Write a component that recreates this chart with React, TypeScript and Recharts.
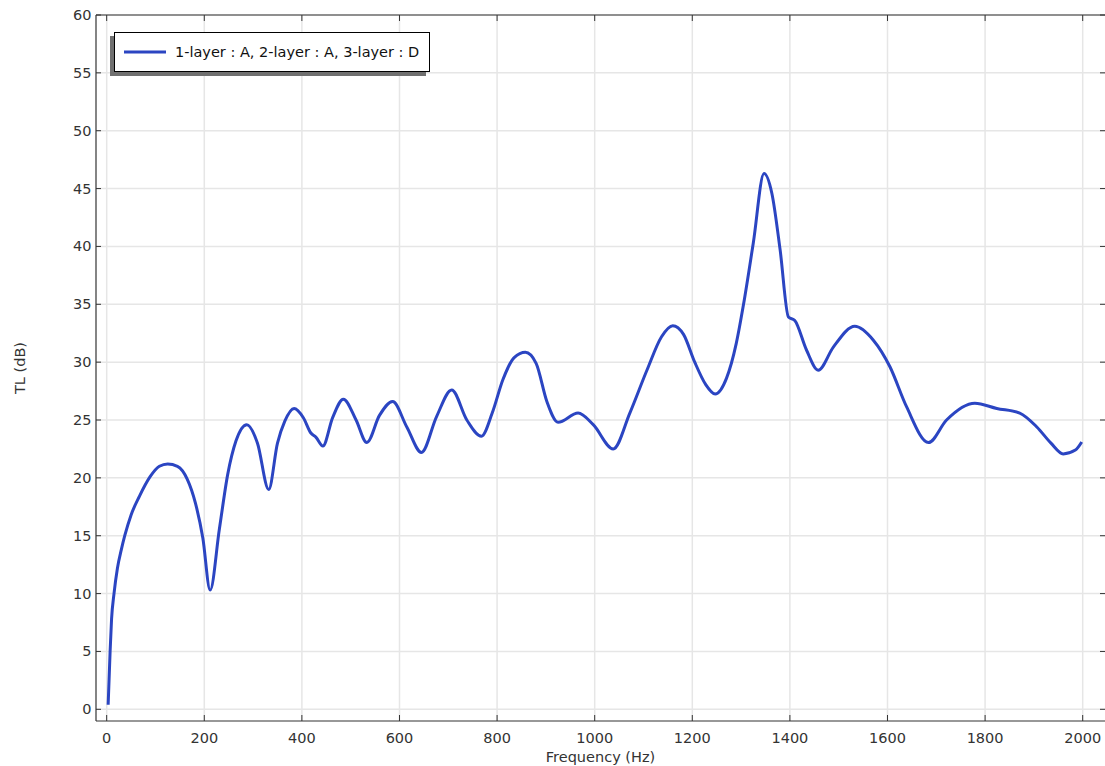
import React from 'react';
import {
  LineChart,
  Line,
  XAxis,
  YAxis,
  CartesianGrid,
  Legend,
} from 'recharts';

// Transmission loss spectrum of the layered configuration
const freqHz = [
  3, 7, 10, 15, 22, 30, 37, 50, 67, 89, 108, 125, 145, 165, 182, 197, 212, 231,
  248, 265, 287, 309, 332, 350, 365, 384, 403, 418, 429, 443, 463, 485, 511,
  533, 559, 586, 615, 645, 676, 707, 738, 768, 790, 812, 835, 858, 880, 902,
  925, 966, 997, 1038, 1072, 1107, 1137, 1160, 1182, 1205, 1227, 1247, 1270,
  1290, 1305, 1325, 1347, 1363, 1380, 1397, 1410, 1434, 1458, 1489, 1533, 1571,
  1605, 1639, 1684, 1721, 1779, 1824, 1871, 1906, 1935, 1960, 1985, 1998,
];
const tlDb = [
  0.4, 5.0, 7.8, 10.0, 12.2, 13.8, 15.0, 16.8, 18.4, 20.1, 21.0, 21.2, 21.0,
  19.9, 17.8, 14.8, 10.3, 15.6, 20.3, 23.2, 24.6, 23.0, 19.0, 23.0, 24.9, 26.0,
  25.2, 23.9, 23.5, 22.75, 25.2, 26.8, 25.0, 23.05, 25.4, 26.6, 24.4, 22.2,
  25.3, 27.6, 25.0, 23.6, 25.6, 28.5, 30.4, 30.85, 29.9, 26.6, 24.8, 25.6,
  24.6, 22.5, 25.6, 29.3, 32.2, 33.15, 32.4, 30.0, 28.1, 27.25, 28.6, 31.6,
  35.0, 40.3, 46.3, 44.6, 39.7, 33.9, 33.6, 31.05, 29.3, 31.3, 33.1, 31.9,
  29.6, 26.15, 23.05, 25.0, 26.45, 26.0, 25.6, 24.4, 23.0, 22.07, 22.4, 23.1,
];

const xTicks = [0, 200, 400, 600, 800, 1000, 1200, 1400, 1600, 1800, 2000];
const yTicks = [0, 5, 10, 15, 20, 25, 30, 35, 40, 45, 50, 55, 60];

const seriesName = '1-layer : A, 2-layer : A, 3-layer : D';
const lineColor = '#2b45c2';

const data = freqHz.map((f, i) => ({ f, tl: tlDb[i] }));

const FONT = '"DejaVu Sans", sans-serif';
const AXIS = '#333333';
const LABEL_SIZE = 14.5;

const BottomTick = (props: any) => {
  const { x, y, payload } = props;
  return (
    <g>
      <line x1={x} x2={x} y1={y} y2={y - 6} stroke={AXIS} strokeWidth={1} />
      <text x={x} y={y + 22} textAnchor="middle" fontSize={LABEL_SIZE} fontFamily={FONT} fill={AXIS}>
        {payload.value}
      </text>
    </g>
  );
};

const TopTick = (props: any) => {
  const { x, y } = props;
  return <line x1={x} x2={x} y1={y} y2={y + 6} stroke={AXIS} strokeWidth={1} />;
};

const LeftTick = (props: any) => {
  const { x, y, payload } = props;
  return (
    <g>
      <line x1={x} x2={x + 5} y1={y} y2={y} stroke={AXIS} strokeWidth={1} />
      <text x={x - 4.5} y={y + 5} textAnchor="end" fontSize={LABEL_SIZE} fontFamily={FONT} fill={AXIS}>
        {payload.value}
      </text>
    </g>
  );
};

const RightTick = (props: any) => {
  const { x, y } = props;
  return <line x1={x} x2={x - 5} y1={y} y2={y} stroke={AXIS} strokeWidth={1} />;
};

const XTitle = (props: any) => {
  const { viewBox } = props;
  const cx = 600.5;
  return (
    <text x={cx} y={viewBox.y + 41} textAnchor="middle" fontSize={LABEL_SIZE} fontFamily={FONT} fill={AXIS}>
      Frequency (Hz)
    </text>
  );
};

const YTitle = (props: any) => {
  const { viewBox } = props;
  const cy = viewBox.y + viewBox.height / 2;
  const cx = 20;
  return (
    <text
      x={cx}
      y={cy}
      transform={`rotate(-90, ${cx}, ${cy})`}
      textAnchor="middle"
      dominantBaseline="central"
      fontSize={LABEL_SIZE}
      fontFamily={FONT}
      fill={AXIS}
    >
      TL (dB)
    </text>
  );
};

const LegendBox = (props: any) => {
  const item = props.payload && props.payload[0];
  const color = item ? item.color : lineColor;
  const label = item ? item.value : seriesName;
  return (
    <div
      style={{
        boxSizing: 'border-box',
        width: 316,
        height: 40,
        border: '1px solid #000',
        background: '#fff',
        boxShadow: '-4px 4px 0 #707070',
        display: 'flex',
        alignItems: 'center',
        paddingLeft: 9,
        fontFamily: FONT,
        fontSize: LABEL_SIZE,
        color: '#111',
        whiteSpace: 'nowrap',
      }}
    >
      <svg width={42} height={6} style={{ marginRight: 9, display: 'block' }}>
        <line x1={0} x2={42} y1={3} y2={3} stroke={color} strokeWidth={3} />
      </svg>
      <span>{label}</span>
    </div>
  );
};

export default function App() {
  return (
    <div
      style={{
        position: 'absolute',
        left: 0,
        top: 0,
        width: 1105,
        height: 766,
        overflow: 'hidden',
        background: '#fff',
      }}
    >
      <LineChart
        width={1110}
        height={766}
        data={data}
        margin={{ top: 10, right: 0, bottom: 15, left: 56 }}
      >
        <CartesianGrid stroke="#e6e6e6" strokeWidth={1.5} verticalValues={xTicks} horizontalValues={yTicks} />
        <XAxis
          xAxisId={0}
          dataKey="f"
          type="number"
          domain={[-21.9, 2045.7]}
          allowDataOverflow
          ticks={xTicks}
          interval={0}
          height={30}
          tickSize={0}
          tickMargin={0}
          tickLine={false}
          axisLine={{ stroke: AXIS, strokeWidth: 1.2 }}
          tick={BottomTick}
          label={XTitle}
        />
        <XAxis
          xAxisId="top"
          orientation="top"
          type="number"
          dataKey="f"
          domain={[-21.9, 2045.7]}
          allowDataOverflow
          ticks={xTicks}
          interval={0}
          height={5}
          tickSize={0}
          tickMargin={0}
          tickLine={false}
          axisLine={{ stroke: AXIS, strokeWidth: 1.2 }}
          tick={TopTick}
        />
        <YAxis
          yAxisId={0}
          type="number"
          domain={[-1.01, 60]}
          allowDataOverflow
          ticks={yTicks}
          interval={0}
          width={40}
          tickSize={0}
          tickMargin={0}
          tickLine={false}
          axisLine={{ stroke: AXIS, strokeWidth: 1.2 }}
          tick={LeftTick}
          label={YTitle}
        />
        <YAxis
          yAxisId="right"
          orientation="right"
          type="number"
          domain={[-1.01, 60]}
          allowDataOverflow
          ticks={yTicks}
          interval={0}
          width={5}
          tickSize={0}
          tickMargin={0}
          tickLine={false}
          axisLine={false}
          tick={RightTick}
        />
        <Legend
          layout="vertical"
          align="center"
          verticalAlign="middle"
          content={LegendBox}
          wrapperStyle={{ left: 114, top: 32, width: 'auto' }}
        />
        <Line
          xAxisId={0}
          yAxisId={0}
          type="monotone"
          dataKey="tl"
          name={seriesName}
          stroke={lineColor}
          strokeWidth={3}
          dot={false}
          activeDot={false}
          isAnimationActive={false}
        />
      </LineChart>
    </div>
  );
}
